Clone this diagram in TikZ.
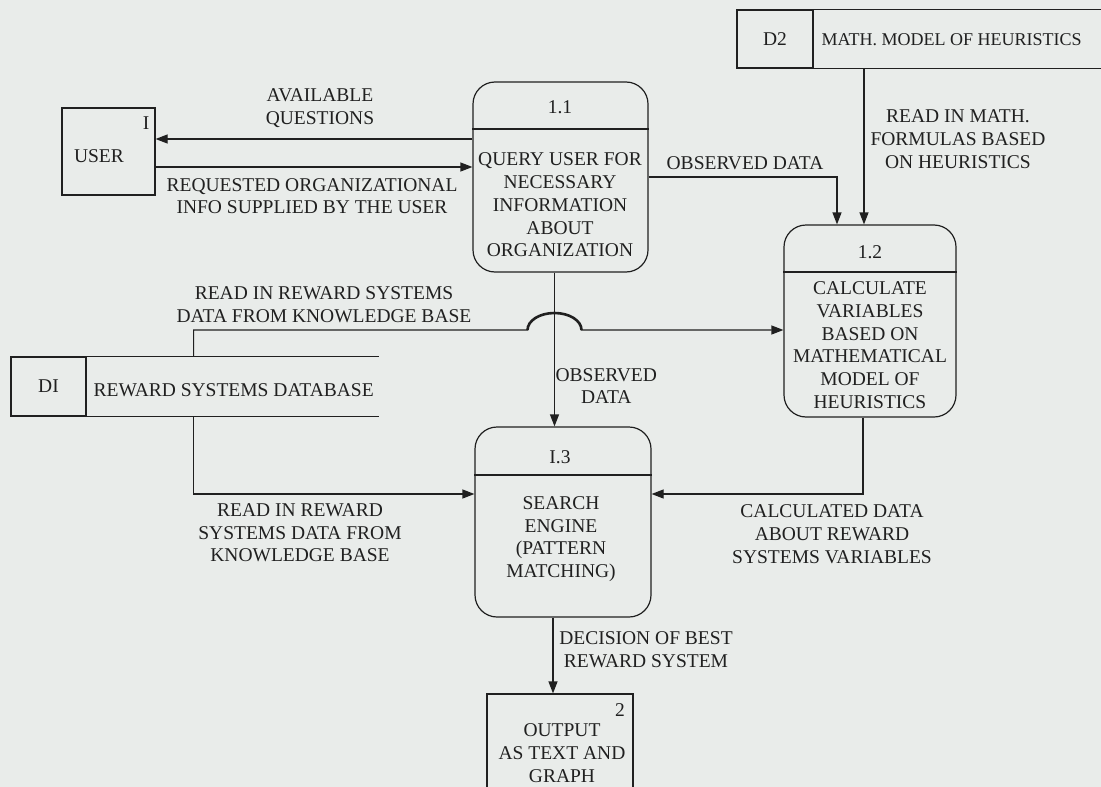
\documentclass[tikz,border=0pt]{standalone}
\usepackage{fontspec}
\setmainfont{Liberation Serif}
\usepackage{tikz}
\usetikzlibrary{arrows.meta}
\definecolor{paper}{RGB}{233,236,234}
\definecolor{ink}{RGB}{32,32,32}
\tikzstyle{proc_box} = [draw=ink, rounded corners=22pt, minimum width=176pt, minimum height=190pt, inner sep=0pt]
\tikzstyle{ext_box} = [draw=ink, inner sep=0pt]
\tikzstyle{store_id} = [draw=ink, minimum width=76pt, minimum height=58pt, inner sep=0pt, text=ink]
\tikzstyle{label_text} = [align=center, inner sep=0pt, text=ink]
\tikzstyle{flow} = [->, draw=ink]

\begin{document}
\begin{tikzpicture}[x=1pt, y=-1pt, line width=1.2pt, >={Triangle[length=12pt,width=9pt]}, font=\fontsize{19.5}{22.7}\selectfont]
		\clip (0,0) rectangle (1101,787);
		\fill[paper] (0,0) rectangle (1101,787);
		% external entities
		\node (USER) at (108.5,151.5) [ext_box, minimum width=93pt, minimum height=87pt] {};
		\node (USERtxt) at (99,156) [label_text] {USER};
		\node (USERnum) at (146,123) [label_text] {I};
		\node (OUT) at (560,752) [ext_box, minimum width=146pt, minimum height=116pt] {};
		\node (OUTnum) at (620,710) [label_text] {2};
		\node (OUTtxt) at (562,753) [label_text] {OUTPUT\\AS TEXT AND\\GRAPH};
		% processes
		\node (P11) at (560.5,177) [proc_box, minimum width=175pt] {};
		\draw[ink] ([yshift=48pt]P11.west) -- ([yshift=48pt]P11.east);
		\node (P11num) at (560,107) [label_text] {1.1};
		\node (P11txt) at (560,205) [label_text] {QUERY USER FOR\\NECESSARY\\INFORMATION\\ABOUT\\ORGANIZATION};
		\node (P12) at (870,321) [proc_box, minimum width=172pt, minimum height=192pt] {};
		\draw[ink] ([yshift=49pt]P12.west) -- ([yshift=49pt]P12.east);
		\node (P12num) at (870,252) [label_text] {1.2};
		\node (P12txt) at (870,345) [label_text] {CALCULATE\\VARIABLES\\BASED ON\\MATHEMATICAL\\MODEL OF\\HEURISTICS};
		\node (P13) at (563,522) [proc_box] {};
		\draw[ink] ([yshift=47pt]P13.west) -- ([yshift=47pt]P13.east);
		\node (P13num) at (560,457) [label_text] {I.3};
		\node (P13txt) at (561,539) [label_text] {SEARCH\\ENGINE\\(PATTERN\\MATCHING)};
		% data stores
		\node (D2) at (775,39) [store_id] {D2};
		\draw[ink] (D2.north east) -- +(300,0) (D2.south east) -- +(300,0);
		\node (D2lbl) at (821,40) [label_text, anchor=west, font=\fontsize{18}{21}\selectfont] {MATH. MODEL OF HEURISTICS};
		\node (D1) at (48.5,386.5) [store_id, minimum width=75pt, minimum height=59pt] {DI};
		\draw[ink] (D1.north east) -- +(292,0) (D1.south east) -- +(292,0);
		\node (D1lbl) at (93,390) [label_text, anchor=west] {REWARD SYSTEMS DATABASE};
		% flows
		\coordinate (q_out) at ([yshift=38pt]P11.west);
		\draw[flow] (q_out) -- (q_out -| USER.east);
		\coordinate (info_in) at ([yshift=10pt]P11.west);
		\draw[flow] (info_in -| USER.east) -- (info_in);
		\draw[flow] (P11.east) -| ([xshift=-33pt]P12.north);
		\coordinate (math_in) at ([xshift=-6pt]P12.north);
		\draw[flow] (math_in |- D2.south) -- (math_in);
		\coordinate (obs_down) at ([xshift=-6pt]P11.south);
		\draw[flow] (obs_down) -- (obs_down |- P13.north);
		\coordinate (rs_top) at ([xshift=107pt]D1.north east);
		\coordinate (rs_in) at ([yshift=-9pt]P12.west);
		\coordinate (hop) at (obs_down |- rs_in);
		\draw[flow] (rs_top) -- (rs_top |- rs_in) -- ([xshift=-27pt]hop) arc[start angle=180, end angle=0, x radius=27pt, y radius=17pt] -- (rs_in);
		\draw[ink, line width=2.6pt] ([xshift=-27pt]hop) arc[start angle=180, end angle=0, x radius=27pt, y radius=17pt];
		\coordinate (rs_bot) at ([xshift=107pt]D1.south east);
		\draw[flow] (rs_bot) |- ([yshift=28pt]P13.west);
		\draw[flow] ([xshift=-7pt]P12.south) |- ([yshift=28pt]P13.east);
		\coordinate (dec_out) at ([xshift=-10pt]P13.south);
		\draw[flow] (dec_out) -- (dec_out |- OUT.north);
		% flow labels
		\node (lbl_avail) at (320,108) [label_text] {AVAILABLE\\QUESTIONS};
		\node (lbl_req) at (312,196) [label_text] {REQUESTED ORGANIZATIONAL\\INFO SUPPLIED BY THE USER};
		\node (lbl_obs1) at (745,163) [label_text] {OBSERVED DATA};
		\node (lbl_math) at (958,139) [label_text] {READ IN MATH.\\FORMULAS BASED\\ON HEURISTICS};
		\node (lbl_rs1) at (324,305) [label_text] {READ IN REWARD SYSTEMS\\DATA FROM KNOWLEDGE BASE};
		\node (lbl_obs2) at (555,386) [label_text, anchor=west] {OBSERVED\\DATA};
		\node (lbl_rs2) at (300,533) [label_text] {READ IN REWARD\\SYSTEMS DATA FROM\\KNOWLEDGE BASE};
		\node (lbl_calc) at (832,534) [label_text] {CALCULATED DATA\\ABOUT REWARD\\SYSTEMS VARIABLES};
		\node (lbl_dec) at (646,650) [label_text] {DECISION OF BEST\\REWARD SYSTEM};
\end{tikzpicture}
\end{document}
